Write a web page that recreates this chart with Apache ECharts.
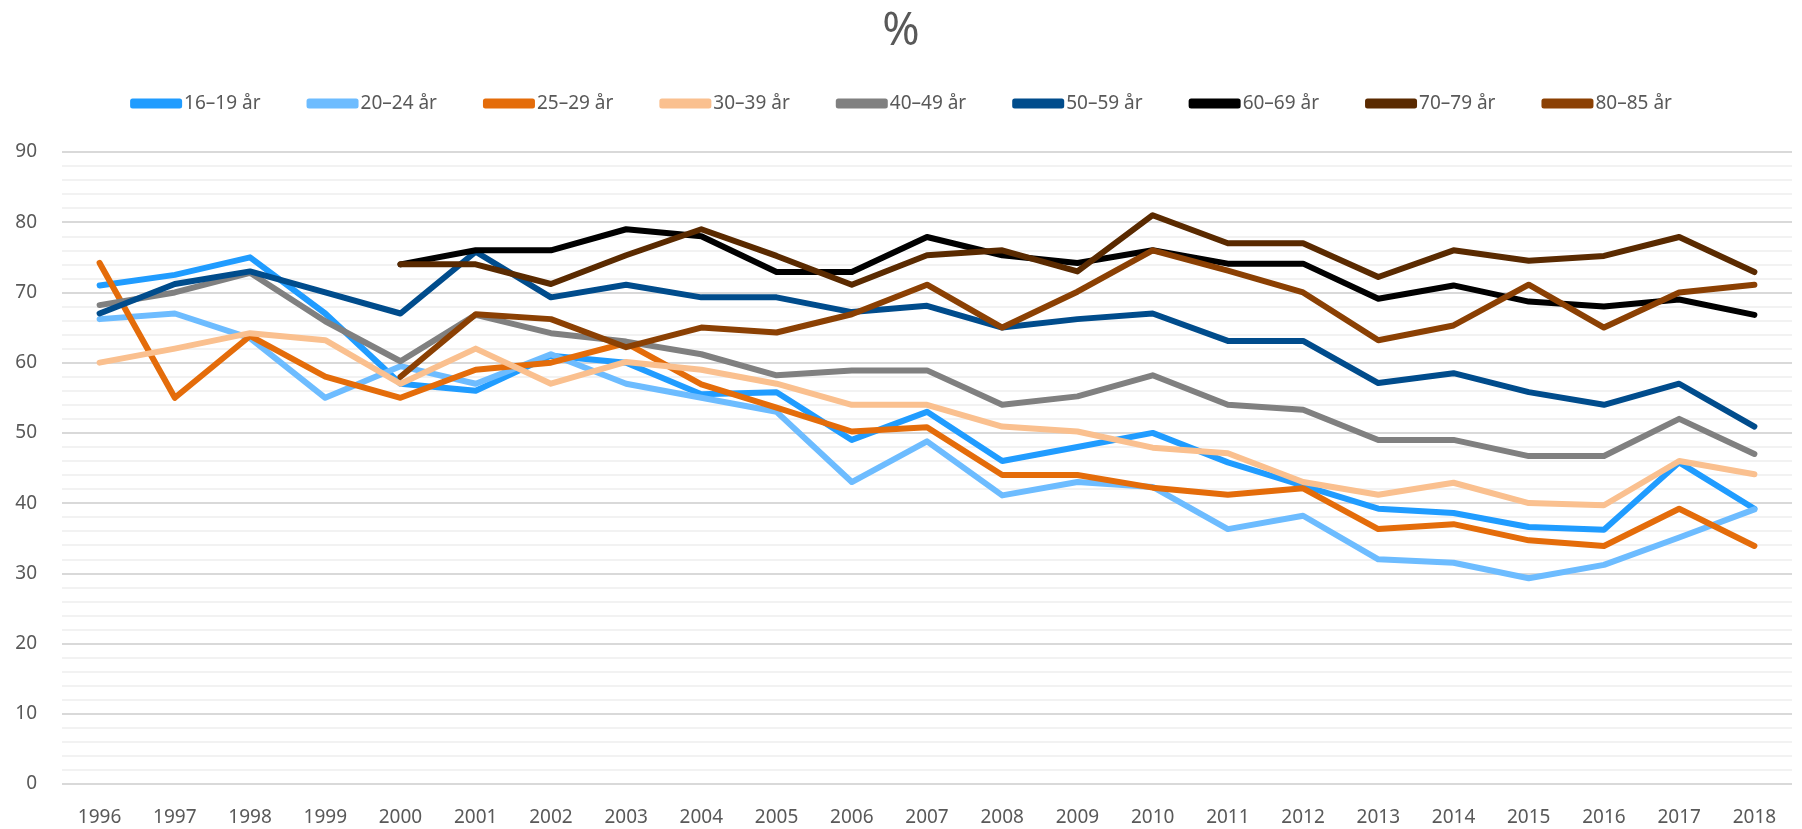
<!DOCTYPE html>
<html>
<head>
<meta charset="utf-8">
<script src="https://cdn.jsdelivr.net/npm/echarts@6/dist/echarts.min.js"></script>
<style>
  html, body { margin: 0; padding: 0; background: #fff; }
  #chart { width: 1802px; height: 829px; }
</style>
</head>
<body>
<div id="chart"></div>
<script>
// years on the x axis
var years = ['1996', '1997', '1998', '1999', '2000', '2001', '2002', '2003', '2004', '2005', '2006', '2007',
  '2008', '2009', '2010', '2011', '2012', '2013', '2014', '2015', '2016', '2017', '2018']

var seriesNames = ['16–19 år', '20–24 år', '25–29 år', '30–39 år', '40–49 år', '50–59 år', '60–69 år', '70–79 år', '80–85 år']

// values (%)
var age16_19 = [71, 72.5, 75, 67, 57, 56, 61, 60, 55.5, 55.8, 49, 53, 46, 48, 50, 45.8, 42.5, 39.2, 38.6, 36.6, 36.2, 45.8, 39.2]
var age20_24 = [66.2, 67, 63.5, 55, 59.5, 57, 61.2, 57, 55, 53, 43, 48.8, 41.1, 43, 42.3, 36.3, 38.2, 32, 31.5, 29.3, 31.2, 35.1, 39.1]
var age25_29 = [74.2, 55, 63.8, 58, 55, 59, 60, 62.8, 56.9, 53.6, 50.2, 50.8, 44, 44, 42.2, 41.2, 42.1, 36.3, 37, 34.7, 33.9, 39.2, 33.9]
var age30_39 = [60, 62, 64.2, 63.2, 57, 62, 57, 60.1, 59, 57, 54, 54, 50.9, 50.2, 47.9, 47.1, 43, 41.2, 42.9, 40, 39.7, 46, 44.1]
var age40_49 = [68.2, 70, 72.8, 65.9, 60.2, 66.8, 64.2, 63, 61.2, 58.2, 58.9, 58.9, 54, 55.2, 58.2, 54, 53.3, 49, 49, 46.7, 46.7, 52, 47]
var age50_59 = [67, 71.2, 73, 70, 67, 75.8, 69.3, 71.1, 69.3, 69.3, 67.2, 68.1, 65, 66.2, 67, 63.1, 63.1, 57.1, 58.5, 55.8, 54, 57, 50.9]
var age60_69 = [null, null, null, null, 74, 76, 76, 79, 78, 72.9, 72.9, 77.9, 75.3, 74.2, 76, 74.1, 74.1, 69.1, 71, 68.7, 68, 69, 66.8]
var age70_79 = [null, null, null, null, 74, 74, 71.2, 75.3, 79, 75.2, 71.1, 75.3, 76, 73, 81, 77, 77, 72.2, 76, 74.5, 75.2, 77.9, 72.9]
var age80_85 = [null, null, null, null, 58, 66.9, 66.2, 62.2, 65, 64.3, 66.9, 71.1, 65, 70.1, 76, 73.1, 70, 63.2, 65.3, 71.1, 65, 70, 71.1]

var allValues = [age16_19, age20_24, age25_29, age30_39, age40_49, age50_59, age60_69, age70_79, age80_85]
var colors = ['#209CFF', '#6DBCFF', '#E46C0A', '#FAC08F', '#808080', '#004C8C', '#000000', '#5A2A00', '#8B4003']

var FONT = "'Noto Sans', 'DejaVu Sans', sans-serif"

var chart = echarts.init(document.getElementById('chart'), null, { renderer: 'canvas' })

chart.setOption({
  animation: false,
  color: colors,
  title: {
    text: '%',
    left: 'center',
    top: 5,
    textStyle: { color: '#595959', fontSize: 45, fontWeight: 'normal', fontFamily: FONT }
  },
  legend: {
    data: seriesNames,
    top: 89,
    left: 'center',
    icon: 'roundRect',
    itemWidth: 52,
    itemHeight: 10,
    itemGap: 46,
    textStyle: { color: '#595959', fontSize: 19, fontFamily: FONT, padding: [0, 0, 0, -3] }
  },
  grid: {
    left: 62,
    right: 10,
    top: 152,
    bottom: 45
  },
  xAxis: {
    type: 'category',
    data: years,
    boundaryGap: true,
    axisLine: { show: false },
    axisTick: { show: false },
    axisLabel: { color: '#595959', fontSize: 19, fontFamily: FONT, margin: 24 }
  },
  yAxis: {
    type: 'value',
    min: 0,
    max: 90,
    interval: 10,
    axisLine: { show: false },
    axisTick: { show: false },
    axisLabel: { color: '#595959', fontSize: 19, fontFamily: FONT, margin: 25 },
    splitLine: { lineStyle: { color: '#d9d9d9', width: 2 } },
    minorTick: { show: false, splitNumber: 5 },
    minorSplitLine: { show: true, lineStyle: { color: '#f2f2f2', width: 2 } }
  },
  series: seriesNames.map(function (name, i) {
    return {
      name: name,
      type: 'line',
      data: allValues[i],
      symbol: 'none',
      lineStyle: { width: 6, cap: 'round', join: 'round' }
    }
  })
})
</script>
</body>
</html>
